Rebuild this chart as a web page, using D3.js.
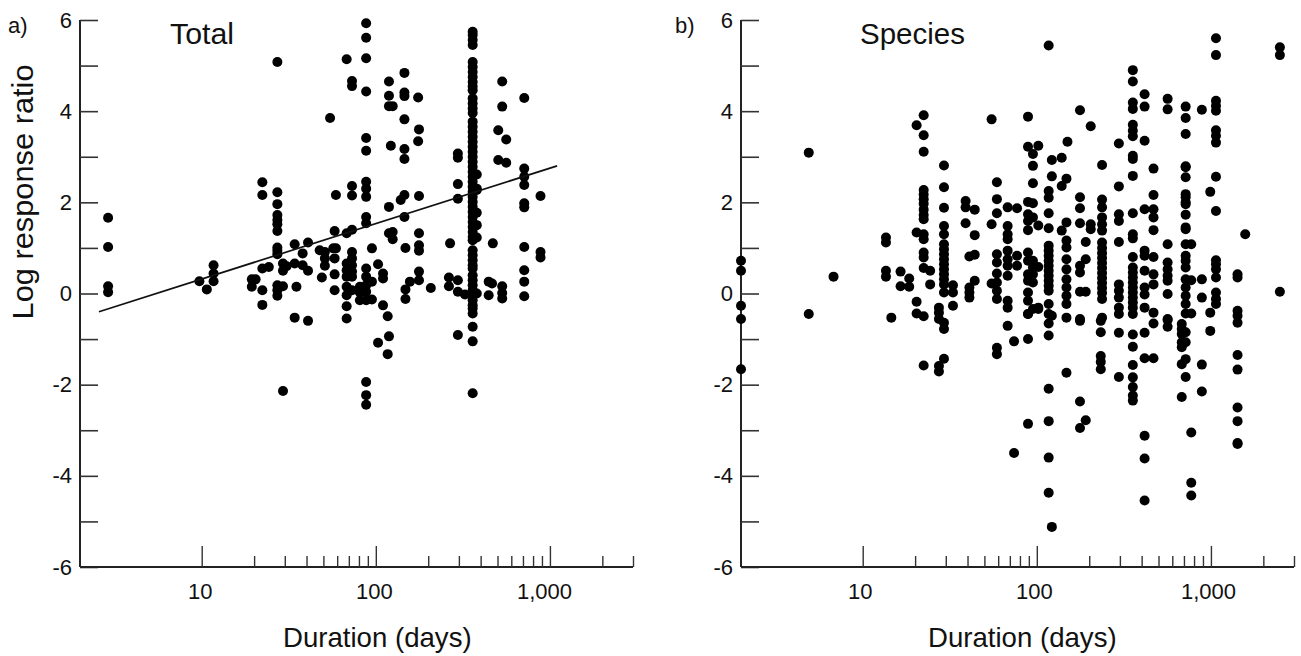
<!DOCTYPE html>
<html><head><meta charset="utf-8">
<script src="https://cdn.jsdelivr.net/npm/d3@7"></script>
<style>html,body{margin:0;padding:0;background:#fff}svg{display:block}text{font-family:"Liberation Sans",Arial,sans-serif;fill:#111}</style>
</head><body><div id="c"></div>
<script>
const panelLetters = ["a)", "b)"];
const panelTitles = ["Total", "Species"];
const yLabel = "Log response ratio";
const xLabel = "Duration (days)";
const yMajorTicks = [-6,-4,-2,0,2,4,6];
const yAllTicks = [-6,-5,-4,-3,-2,-1,0,1,2,3,4,5,6];
const xMajorTicks = [10,100,1000];
const xMinorTicks = [20,30,40,50,60,70,80,90,200,300,400,500,600,700,800,900,2000,3000];
const fitDays = [2.57,1100];
const fitValues = [-0.4,2.8];

const totalDays = [2.9,9.7,10.7,11.7,19.4,20.4,22.3,24.3,27.2,29.3,30.7,34.2,35,38,40.8,47.6,49,51,54.6,57,58,59,68,73,81,88,95,103,110,117,119,122,125,139,146,148,157,175,177,207,263,267,296,325,360,380,445,465,470,505,532,561,712,883];
const totalValues = [
[1.66,1.02,.16,.03],[.27],[.09],[.62,.44,.27],[.31,.15],[.31],[2.44,2.16,.55,.07,-.25],[.58],
[5.08,2.22,1.96,1.72,1.61,1.52,1.37,1.01,.94,.86,.18,.07,-.05],[.66,.5,.16,-2.14],[.6],[1.08,.66,-.53],[.15],[.88,.62],[1.12,.5,-.6],[.95],[.35],[.91,.77,.61],[3.85],[.99],[1.37,.77,.42,.07],[2.16,.99],
[5.14,1.32,.66,.51,.37,.15,-.04,-.28,-.55],[4.66,4.55,2.36,2.15,1.4,.91,.77,.62,.48,.37,.07],[.15,-.15,.02],
[5.93,5.61,5.16,4.43,3.41,3.13,2.45,2.3,2.12,1.68,1.54,.55,.37,.18,.04,-.15,-1.94,-2.23,-2.44],[.99,.26,-.13],[.64,-1.08],[.44,.33,-.26],[-.5,-1.33],[4.65,4.34,4.11,1.9,1.32,-.94],[3.24],[4.11,1.35,1.19],[2.05],[4.84,4.41,4.33,3.82,3.17,2.95,2.16,1.68],[1,.09,-.12],[.26],[4.3,3.34],[3.6,2.14,1.32,1.06,.94,.48,.29],[.12],[.35,.16],[1.1],[3.07,2.98,2.4,2.08,.29,.04,-.91],[-.02],
[5.74,5.67,5.56,5.45,5.08,4.97,4.86,4.75,4.64,4.54,4.46,4.28,4.17,4.06,3.96,3.77,3.66,3.55,3.44,3.33,3.22,3.11,3,2.89,2.78,2.67,2.56,2.45,2.34,2.23,2.12,2.01,1.9,1.79,1.68,1.57,1.46,1.35,1.24,1.17,.95,.84,.73,.62,.55,.4,.29,.18,.07,-.04,-.15,-.26,-.33,-.44,-.73,-1.05,-2.19],
[2.61,2.3,2.27,1.77,1.5,1.23,0],[.26,-.04],[.22],[1.1],[3.58,2.93],[4.65,4.1,.16,.01,-.11],[3.38,2.87],[4.29,2.74,2.56,2.38,1.98,1.89,1.02,.51,.26,-.06],[2.14,.91,.79]
];

const speciesDays = [2,4.9,6.8,13.6,14.6,16.5,18.5,20.4,22.4,24.4,27.4,29.3,33,39,41,44,55,59,68,74,77,89,95,102,117,122,139,148,150,177,191,204,233,237,296,356,416,468,564,680,716,771,887,991,1069,1422,1574,2489];
const speciesValues = [
[.72,.5,-.27,-.56,-1.66],[3.09,-.45],[.37],[1.23,1.12,.5,.37],[-.53],[.48,.16],[.33,.15],[3.69,1.34,-.18,-.44],
[3.91,3.47,3.11,2.27,2.17,2.07,1.97,1.84,1.72,1.63,1.3,1.19,.9,.79,.56,-.5,-1.58],[.5,.2],[-.31,-.42,-.56,-1.59,-1.71],
[2.81,2.33,1.88,1.48,1.3,1.08,.97,.86,.75,.64,.53,.42,.31,.2,.02,-.64,-.78,-1.43],[.18,.02,-.27],[2.03,1.89,1.54],[.81,.13,.02,-.09],[1.84,1.28,.85,.28],[3.82,1.52,.22],
[2.44,2.07,1.76,.86,.68,.44,.24,.06,-.12,-1.19,-1.33],[1.89,1.48,1.3,1.19,.94,.75,.61,.39,-.16,-.31,-.71],[-1.05,-3.5],[1.87,.83,.61],
[3.88,3.22,2.01,1.74,1.59,1.39,.9,.72,.42,.28,.02,-.16,-.45,-.45,-1,-2.86],[3.06,2.8,2.42,1.98,1.67,.72,.57,.42,.24,-.34],[3.24,1.49,.58,-.31,-.34],
[5.44,2.25,2.1,1.76,1.43,1.05,.94,.83,.72,.61,.5,.39,.28,.17,.06,-.23,-.45,-.66,-.92,-2.09,-2.8,-3.6,-4.37],[2.93,2.57,-.49,-5.12],[2.98,2.36,1.38],[2.52,1.56,1.16,1.01,.75,.53,.31,.13,-.05,-.23,-.53,-1.74],[3.33],
[4.02,2.11,1.87,1.54,.61,.46,.04,-.56,-.6,-2.37,-2.95],[1.13,.75,.04,-2.78],[3.67,1.52,1.41],[-.6,-.85,-1.37,-1.5,-1.66],[2.82,2.06,1.89,1.67,1.52,1.38,1.12,1,.89,.78,.67,.56,.45,.34,.23,.12,.01,-.12,-.53],
[3.29,2.35,1.74,1.59,1.13,.2,.06,-.09,-.31,-.45,-.86,-1.83],
[4.9,4.65,4.19,4.05,3.7,3.57,3.45,3.02,2.95,2.58,1.76,1.3,1.21,.8,.57,.46,.35,.24,.13,.02,-.09,-.2,-.31,-.45,-.9,-1.17,-1.57,-1.84,-2.05,-2.24,-2.35],
[4.37,4.1,3.35,1.85,.94,.83,.5,.13,-.02,-.31,-.86,-1.42,-3.12,-3.62,-4.54],[2.74,2.16,1.85,1.67,1.39,.8,.42,.2,-.42,-.66,-1.42],[4.27,4.04,1.08,.68,.53,.39,.28,-.01,-.56,-.58,-.73],
[-2.27,-1.55,-.67,-.78,-.89,-1.07,-1.18],[4.1,3.85,3.5,2.79,2.77,2.55,2.18,2.11,2,1.96,1.73,1.45,1.41,1.08,.83,.72,.57,.31,.13,-.05,-.23,-.44,-.85,-1.07,-1.44,-1.83],[1.08,.29,-.44,-3.05,-4.15,-4.43],[4.03,.31,-.09,-1.56,-2.15],[2.23,-.42,-.82],
[5.6,5.23,4.23,4.12,4.01,3.58,3.46,3.31,2.56,1.81,.73,.64,.53,.35,.02,-.12,-.23],[.42,.35,-.38,-.49,-.64,-1.35,-1.67,-2.5,-2.8,-3.3,-3.28],[1.3],[5.4,5.23,.04]
];

const width = 1301, height = 656;
const yTop = 20, yBottom = 567, rightPad = 553;
const panelLeft = [80, 741];
const svg = d3.select("#c").append("svg").attr("width", width).attr("height", height);

function drawPanel(i, days, values, fit) {
  const x0 = panelLeft[i];
  const x = d3.scaleLog().domain([2, 3000]).range([x0, x0 + rightPad]);
  const y = d3.scaleLinear().domain([-6, 6]).range([yBottom, yTop]);
  const g = svg.append("g");

  const yAxis = d3.axisLeft(y).tickValues(yAllTicks).tickSize(-18).tickPadding(8)
    .tickFormat(d => yMajorTicks.includes(d) ? d3.format("d")(d).replace("\u2212", "-") : "");
  g.append("g").attr("transform", `translate(${x0},0)`).call(yAxis).call(s => {
    s.select(".domain").attr("d", `M0,${yTop}V${yBottom}`).attr("stroke", "#222").attr("stroke-width", 2);
    s.selectAll("line").attr("stroke", "#333").attr("stroke-width", 1.6);
    s.selectAll("text").attr("font-size", 22).attr("fill", "#111");
  });

  const xAxis = d3.axisBottom(x).tickValues(xMajorTicks).tickSize(-21).tickPadding(16)
    .tickFormat(d3.format(","));
  g.append("g").attr("transform", `translate(0,${yBottom})`).call(xAxis).call(s => {
    s.select(".domain").attr("d", `M${x0},0H${x0 + rightPad}`).attr("stroke", "#222").attr("stroke-width", 2);
    s.selectAll("line").attr("stroke", "#333").attr("stroke-width", 1.4);
    s.selectAll("text").attr("font-size", 22).attr("fill", "#111")
      .attr("dx", d => i ? -3 : (d === 1000 ? -6 : -2));
  });
  const xMinor = d3.axisBottom(x).tickValues(xMinorTicks).tickSize(-11).tickFormat("");
  g.append("g").attr("transform", `translate(0,${yBottom})`).call(xMinor).call(s => {
    s.select(".domain").remove();
    s.selectAll("line").attr("stroke", "#333").attr("stroke-width", 1.4);
  });

  const pts = days.flatMap((d, k) => values[k].map(v => [d, v]));
  g.append("g").selectAll("circle").data(pts).join("circle")
    .attr("cx", d => x(d[0])).attr("cy", d => y(d[1])).attr("r", 5).attr("fill", "#000");

  if (fit) {
    g.append("path").datum(fitDays.map((d, k) => [d, fitValues[k]]))
      .attr("d", d3.line().x(d => x(d[0])).y(d => y(d[1])))
      .attr("fill", "none").attr("stroke", "#111").attr("stroke-width", 1.7);
  }

  g.append("text").attr("y", 647).attr("font-size", 27.6)
    .attr("text-anchor", "start").text(xLabel).attr("x", x0 + (i ? 187 : 203));
  g.append("text").attr("x", i ? 860 : 170).attr("y", 44).attr("font-size", 30)
    .attr("textLength", i ? 105 : 64).attr("lengthAdjust", "spacingAndGlyphs").text(panelTitles[i]);
  g.append("text").attr("x", i ? 675 : 8).attr("y", 33).attr("font-size", 22).text(panelLetters[i]);
}

drawPanel(0, totalDays, totalValues, true);
drawPanel(1, speciesDays, speciesValues, false);
svg.append("text").attr("transform", "translate(33,192) rotate(-90)")
  .attr("text-anchor", "middle").attr("font-size", 30).attr("textLength", 255)
  .attr("lengthAdjust", "spacingAndGlyphs").text(yLabel);
</script></body></html>
